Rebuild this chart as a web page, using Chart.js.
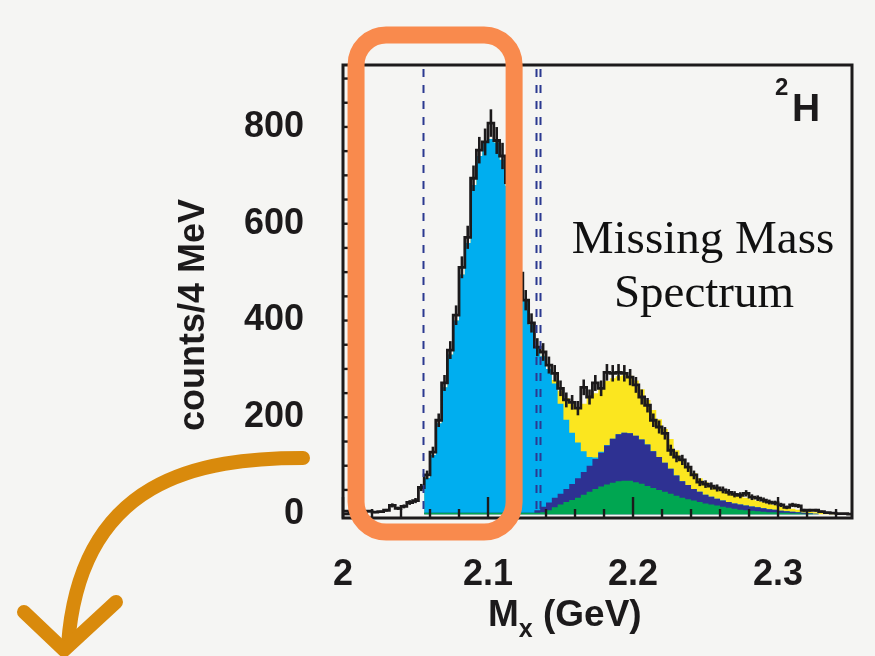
<!DOCTYPE html>
<html>
<head>
<meta charset="utf-8">
<title>Missing Mass Spectrum</title>
<script src="https://cdn.jsdelivr.net/npm/chart.js@4.4.1/dist/chart.umd.min.js"></script>
<style>
  html, body { margin: 0; padding: 0; background: #f5f5f3; }
  #wrap { width: 875px; height: 656px; }
</style>
</head>
<body>
<div id="wrap"><canvas id="spectrum" width="875" height="656"></canvas></div>
<script>
// histogram bins: 4 MeV wide, first bin starts at 2.000 GeV
const binStart = 2.000;
const binWidth = 0.004;

// measured counts per bin (black histogram with error bars)
const dataCounts = [
  6, 4, 5, 3, 6, 4, 5, 8, 18, 12,
  16, 24, 28, 55, 81, 128, 194, 271, 339, 411,
  510, 572, 694, 752, 769, 808, 772, 740, 685, 595,
  498, 442, 395, 345, 335, 308, 291, 260, 236, 231,
  219, 262, 242, 271, 260, 293, 291, 293, 291, 283,
  267, 242, 225, 194, 180, 167, 132, 118, 112, 97,
  81, 66, 62, 58, 54, 50, 45, 41, 39, 43,
  35, 33, 29, 25, 23, 19, 14, 19, 17, 8,
  8, 8, 5, 3, 2, 1, 1, 0
];

// simulated components, stacked bottom to top
const greenPart = [
  0, 0, 0, 0, 0, 0, 0, 0, 0, 0,
  0, 0, 0, 0, 3, 3, 3, 3, 3, 3,
  3, 3, 3, 3, 3, 3, 3, 3, 3, 3,
  3, 3, 3, 3, 4, 8, 14, 20, 25, 29,
  34, 40, 46, 52, 57, 61, 65, 68, 69, 69,
  66, 63, 58, 54, 50, 46, 42, 38, 34, 31,
  28, 25, 22, 20, 18, 15, 13, 11, 9, 8,
  7, 6, 5, 4, 4, 3, 3, 2, 2, 1,
  1, 0, 0, 0, 0, 0, 0, 0
];
const bluePart = [
  0, 0, 0, 0, 0, 0, 0, 0, 0, 0,
  0, 0, 0, 0, 0, 0, 0, 0, 0, 0,
  0, 0, 0, 0, 0, 0, 0, 0, 0, 0,
  0, 0, 0, 5, 11, 16, 20, 22, 27, 33,
  40, 47, 54, 62, 70, 81, 91, 97, 99, 98,
  96, 91, 86, 76, 68, 60, 52, 42, 34, 29,
  24, 21, 18, 16, 14, 13, 12, 11, 11, 10,
  9, 8, 7, 6, 5, 4, 3, 3, 2, 2,
  1, 1, 0, 0, 0, 0, 0, 0
];
const cyanPart = [
  0, 0, 0, 0, 0, 0, 0, 0, 0, 0,
  0, 0, 0, 0, 72, 119, 185, 259, 327, 397,
  492, 557, 677, 737, 765, 772, 765, 729, 675, 587,
  497, 439, 389, 337, 311, 276, 236, 186, 143, 106,
  74, 43, 18, 3, 2, 1, 0, 0, 0, 0,
  0, 0, 0, 0, 0, 0, 0, 0, 0, 0,
  0, 0, 0, 0, 0, 0, 0, 0, 0, 0,
  0, 0, 0, 0, 0, 0, 0, 0, 0, 0,
  0, 0, 0, 0, 0, 0, 0, 0
];
const yellowPart = [
  0, 0, 0, 0, 0, 0, 0, 0, 0, 0,
  0, 0, 0, 0, 0, 0, 0, 0, 0, 0,
  0, 0, 0, 0, 0, 0, 0, 0, 0, 0,
  0, 0, 0, 0, 0, 0, 7, 27, 45, 60,
  72, 98, 122, 133, 133, 132, 125, 120, 119, 119,
  114, 104, 92, 85, 78, 70, 61, 52, 45, 38,
  33, 28, 26, 23, 21, 20, 19, 18, 17, 16,
  15, 14, 13, 12, 10, 9, 7, 6, 5, 4,
  3, 3, 3, 2, 1, 0, 0, 0
];

const xTicks = [2, 2.1, 2.2, 2.3];
const yTicks = [0, 200, 400, 600, 800];
const cutLines = [2.055, 2.133, 2.136];   // dashed selection cuts (GeV)

const SANS = '"Liberation Sans", Arial, Helvetica, sans-serif';
const SERIF = '"Liberation Serif", "Times New Roman", serif';
const INK = '#1c1a1b';

// left bin edges + closing edge, drawn as a step line
function stepPoints(values) {
  const pts = values.map((v, k) => ({ x: binStart + k * binWidth, y: v }));
  pts.push({ x: binStart + values.length * binWidth, y: values[values.length - 1] });
  return pts;
}

// running sums for the stacked fills
const layers = [greenPart, bluePart, cyanPart, yellowPart];
const stackTops = [];
let running = greenPart.map(() => 0);
layers.forEach(part => {
  running = running.map((s, k) => s + part[k]);
  stackTops.push(running);
});

function fillSet(label, tops, color) {
  return {
    label: label,
    data: stepPoints(tops),
    stepped: 'before',
    borderColor: 'rgba(0,0,0,0)',
    borderWidth: 1,
    backgroundColor: color,
    fill: 'origin',
    pointRadius: 0
  };
}

const overlay = {
  id: 'overlay',
  beforeDraw(chart) {
    const ctx = chart.ctx;
    ctx.save();
    ctx.fillStyle = '#f5f5f3';
    ctx.fillRect(0, 0, chart.width, chart.height);
    ctx.restore();
  },
  afterDatasetsDraw(chart) {
    const { ctx, chartArea: a, scales: { x, y } } = chart;
    ctx.save();
    ctx.beginPath();
    ctx.rect(a.left, a.top, a.width, a.height);
    ctx.clip();

    // dashed cut lines
    ctx.strokeStyle = '#2b3990';
    ctx.lineWidth = 2;
    ctx.setLineDash([8, 8]);
    cutLines.forEach(v => {
      const px = Math.round(x.getPixelForValue(v)) + 0.5;
      ctx.beginPath();
      ctx.moveTo(px, a.top + 4);
      ctx.lineTo(px, a.bottom);
      ctx.stroke();
    });
    ctx.setLineDash([]);

    // Poisson error bars on the data
    ctx.strokeStyle = INK;
    ctx.lineWidth = 2.6;
    dataCounts.forEach((v, k) => {
      if (v <= 0) return;
      const px = x.getPixelForValue(binStart + (k + 0.5) * binWidth);
      const e = Math.sqrt(v);
      ctx.beginPath();
      ctx.moveTo(px, y.getPixelForValue(v - e));
      ctx.lineTo(px, y.getPixelForValue(v + e));
      ctx.stroke();
    });
    ctx.restore();

    // frame and inward ticks
    ctx.save();
    ctx.strokeStyle = INK;
    ctx.lineWidth = 3;
    ctx.strokeRect(a.left, a.top, a.width, a.height);
    ctx.lineWidth = 2.4;
    for (let i = 0; i <= 17; i++) {
      const px = x.getPixelForValue(2 + i * 0.02);
      const len = i % 5 === 0 ? 21 : 9;
      ctx.beginPath();
      ctx.moveTo(px, a.bottom);
      ctx.lineTo(px, a.bottom - len);
      ctx.stroke();
    }
    for (let v = 0; v <= 900; v += 50) {
      const py = y.getPixelForValue(v);
      const len = v % 200 === 0 ? 13 : 7;
      ctx.beginPath();
      ctx.moveTo(a.left, py);
      ctx.lineTo(a.left + len, py);
      ctx.stroke();
    }
    ctx.restore();
  },
  afterDraw(chart) {
    const { ctx, chartArea: a, scales: { x } } = chart;
    ctx.save();
    ctx.fillStyle = INK;

    // y axis title
    ctx.save();
    ctx.translate(194, 315);
    ctx.rotate(-Math.PI / 2);
    ctx.font = 'bold 36px ' + SANS;
    ctx.textAlign = 'center';
    ctx.textBaseline = 'middle';
    ctx.fillText('counts/4 MeV', 0, 0);
    ctx.restore();

    // x axis title with subscript
    ctx.textBaseline = 'alphabetic';
    ctx.textAlign = 'left';
    let tx = 488;
    ctx.font = 'bold 37px ' + SANS;
    ctx.fillText('M', tx, 626);
    tx += ctx.measureText('M').width;
    ctx.font = 'bold 25px ' + SANS;
    ctx.fillText('x', tx, 637);
    tx += ctx.measureText('x').width;
    ctx.font = 'bold 37px ' + SANS;
    ctx.fillText(' (GeV)', tx, 626);

    // target label
    ctx.font = 'bold 24px ' + SANS;
    ctx.fillText('2', 775, 95);
    ctx.font = 'bold 39px ' + SANS;
    ctx.fillText('H', 792, 121);

    // annotation text
    ctx.font = '47px ' + SERIF;
    ctx.textAlign = 'center';
    ctx.fillStyle = '#111';
    ctx.fillText('Missing Mass', 703, 253);
    ctx.fillText('Spectrum', 704, 307);
    ctx.restore();

    // orange highlight box around the low-mass region
    ctx.save();
    const x1 = x.getPixelForValue(2.009);
    const x2 = x.getPixelForValue(2.118);
    ctx.strokeStyle = '#f98a4d';
    ctx.lineWidth = 17;
    ctx.beginPath();
    ctx.roundRect(x1, a.top - 30, x2 - x1, a.bottom + 14 - (a.top - 30), 30);
    ctx.stroke();
    ctx.restore();

    // hand-drawn style arrow
    ctx.save();
    ctx.strokeStyle = '#d98a0c';
    ctx.lineWidth = 14;
    ctx.lineCap = 'round';
    ctx.lineJoin = 'round';
    ctx.beginPath();
    ctx.moveTo(303, 458);
    ctx.bezierCurveTo(200, 458, 80, 478, 68, 645);
    ctx.stroke();
    ctx.beginPath();
    ctx.moveTo(24, 612);
    ctx.lineTo(64, 650);
    ctx.lineTo(116, 602);
    ctx.stroke();
    ctx.restore();
  }
};

const tickFont = { family: SANS, size: 36, weight: 'bold' };

new Chart(document.getElementById('spectrum').getContext('2d'), {
  type: 'line',
  data: {
    datasets: [
      {
        label: 'data',
        data: stepPoints(dataCounts),
        stepped: 'before',
        borderColor: INK,
        borderWidth: 2.8,
        pointRadius: 0,
        fill: false
      },
      fillSet('green', stackTops[0], '#00a651'),
      fillSet('blue', stackTops[1], '#2e3192'),
      fillSet('cyan', stackTops[2], '#00aeef'),
      fillSet('yellow', stackTops[3], '#fbe61f')
    ]
  },
  options: {
    responsive: false,
    animation: false,
    layout: { padding: { top: 65, right: 23, left: 0, bottom: 0 } },
    plugins: { legend: { display: false }, tooltip: { enabled: false } },
    scales: {
      x: {
        type: 'linear',
        min: 2.0,
        max: 2.351,
        afterFit: s => { s.height = 138; },
        afterBuildTicks: s => { s.ticks = xTicks.map(v => ({ value: v })); },
        grid: { display: false },
        border: { display: false },
        ticks: { font: tickFont, color: INK, padding: 27, maxRotation: 0, autoSkip: false, callback: v => String(v) }
      },
      y: {
        min: -8,
        max: 928,
        afterFit: s => { s.width = 343; },
        afterBuildTicks: s => { s.ticks = yTicks.map(v => ({ value: v })); },
        grid: { display: false },
        border: { display: false },
        ticks: { font: tickFont, color: INK, padding: 31, autoSkip: false, callback: v => String(v) }
      }
    }
  },
  plugins: [overlay]
});
</script>
</body>
</html>
